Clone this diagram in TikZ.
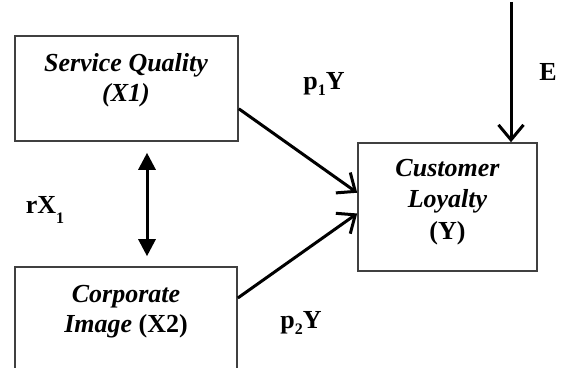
\documentclass[tikz,border=0pt]{standalone}
\usepackage{fontspec}
\setmainfont{Liberation Serif}
\usetikzlibrary{arrows.meta,calc}
\newcommand{\subn}[2][-0.22em]{\raisebox{#1}{\fontsize{16}{16}\selectfont #2}}
\tikzset{
  x=1pt,y=1pt,
  boxstyle/.style={draw=black!75,line width=1.6pt,rectangle,inner sep=0pt},
  boxtext/.style={align=center,font=\fontsize{26}{30}\selectfont\bfseries\itshape,inner sep=0pt},
  lab/.style={font=\fontsize{26}{30}\selectfont\bfseries,inner sep=0pt},
  path/.style={line width=3pt,-{Straight Barb[length=15pt,width=25pt,line width=3pt]}},
  dbl/.style={line width=3pt,{Triangle[length=17pt,width=17pt]}-{Triangle[length=17pt,width=17pt]}}
}
\begin{document}
\begin{tikzpicture}
\useasboundingbox (0,0) rectangle (562,367);
% boxes
\node[boxstyle,minimum width=223pt,minimum height=105pt] (sq) at (126.5,278.5) {};
\node[boxstyle,minimum width=222pt,minimum height=112pt] (ci) at (126,44) {};
\node[boxstyle,minimum width=179pt,minimum height=128pt] (cl) at (447.5,160) {};
% box texts
\node[boxtext] (sqt) at (126,287) {Service Quality\\(X1)};
\node[boxtext] (cit) at (126,55) {Corporate\\Image {\upshape(X2)}};
\node[boxtext,font=\fontsize{26}{31.5}\selectfont\bfseries\itshape] (clt) at (447.5,165) {Customer\\Loyalty\\{\upshape (Y)}};
% labels
\node[lab] (rx) at (45,157) {rX\subn[-0.35em]{1}};
\node[lab] (p1) at (324,283) {p\subn{1}Y};
\node[lab] (p2) at (301,44) {p\subn{2}Y};
\node[lab] (e) at (548,295) {E};
% connectors
\coordinate (etop) at (511,365);
\draw[path] ($(sq.north east)!0.69!(sq.south east)$) -- ($(cl.north west)!0.39!(cl.south west)$);
\draw[path] ($(ci.north east)!0.28!(ci.south east)$) -- ($(cl.north west)!0.55!(cl.south west)$);
\draw[path] (etop) -- (etop |- cl.north);
\draw[dbl] ($(sq.south)+(20.5,-11)$) -- ($(ci.north)+(21,10)$);
\end{tikzpicture}
\end{document}
